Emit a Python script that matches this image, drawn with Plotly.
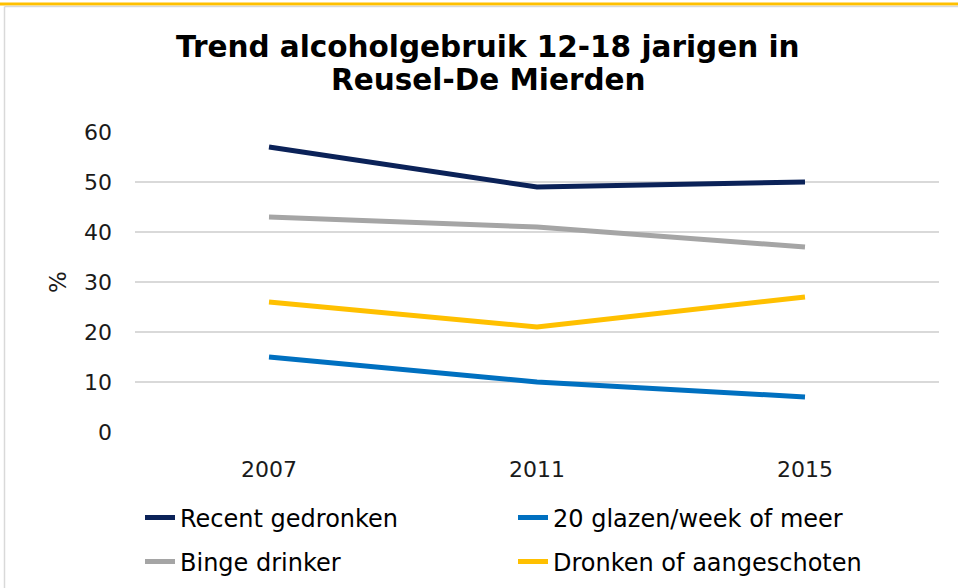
import plotly.graph_objects as go

years = ["2007", "2011", "2015"]
recent = [57, 49, 50]
glazen20 = [15, 10, 7]
binge = [43, 41, 37]
dronken = [26, 21, 27]

series = [
    ("Recent gedronken", recent, "#0B2258", "legend"),
    ("20 glazen/week of meer", glazen20, "#0070C0", "legend"),
    ("Binge drinker", binge, "#A5A5A5", "legend2"),
    ("Dronken of aangeschoten", dronken, "#FFC000", "legend2"),
]

W, H = 958, 588
L, R, T, B = 135, 19, 132, 156
PW, PH = W - L - R, H - T - B


def px(x):
    return (x - L) / PW


def py(y):
    return 1 - (y - T) / PH


fig = go.Figure()
for name, vals, color, leg in series:
    fig.add_trace(go.Scatter(
        x=years, y=vals, mode="lines", name=name, legend=leg,
        line=dict(color=color, width=5),
    ))

# frame: yellow bar on top, thin grey border left/top
fig.add_shape(type="rect", xref="paper", yref="paper",
              x0=px(0), x1=px(W), y0=py(5.5), y1=py(2.5),
              fillcolor="#FFC000", line_width=0, layer="above")
fig.add_shape(type="line", xref="paper", yref="paper",
              x0=px(4.5), x1=px(W), y0=py(6.5), y1=py(6.5),
              line=dict(color="#D9D9D9", width=1.5))
fig.add_shape(type="line", xref="paper", yref="paper",
              x0=px(4.5), x1=px(4.5), y0=py(H), y1=py(6.5),
              line=dict(color="#D9D9D9", width=1.5))

# two-line title
for txt, yc in [("Trend alcoholgebruik 12-18 jarigen in", 47),
                ("Reusel-De Mierden", 80)]:
    fig.add_annotation(text="<b>" + txt + "</b>", xref="paper", yref="paper",
                       x=px(488), y=py(yc), xanchor="center", yanchor="middle",
                       showarrow=False,
                       font=dict(family="DejaVu Sans", size=29.5, color="black"))

leg_common = dict(orientation="h", xref="container", yref="container",
                  xanchor="left", yanchor="middle",
                  entrywidth=328, font=dict(size=24, color="black"),
                  bgcolor="rgba(0,0,0,0)")

fig.update_layout(
    width=W, height=H,
    margin=dict(l=L, r=R, t=T, b=B, autoexpand=False),
    paper_bgcolor="white", plot_bgcolor="white",
    font=dict(family="DejaVu Sans", size=22, color="#1a1a1a"),
    xaxis=dict(type="category", range=[-0.5, 2.5], showgrid=False,
               showline=False, ticks="", ticklabelstandoff=22,
               tickfont=dict(size=22)),
    yaxis=dict(range=[0, 60], dtick=10, gridcolor="#D9D9D9", gridwidth=1.5,
               zeroline=False, showline=False, ticks="", ticklabelstandoff=22,
               title=dict(text="%", standoff=10, font=dict(size=23)),
               tickfont=dict(size=22)),
    legend=dict(x=140 / W, y=1 - 518 / H, **leg_common),
    legend2=dict(x=140 / W, y=1 - 562 / H, **leg_common),
    showlegend=True,
)

fig.write_html("out.html", config={"displayModeBar": False},
               post_script="document.body.style.margin='0';")
